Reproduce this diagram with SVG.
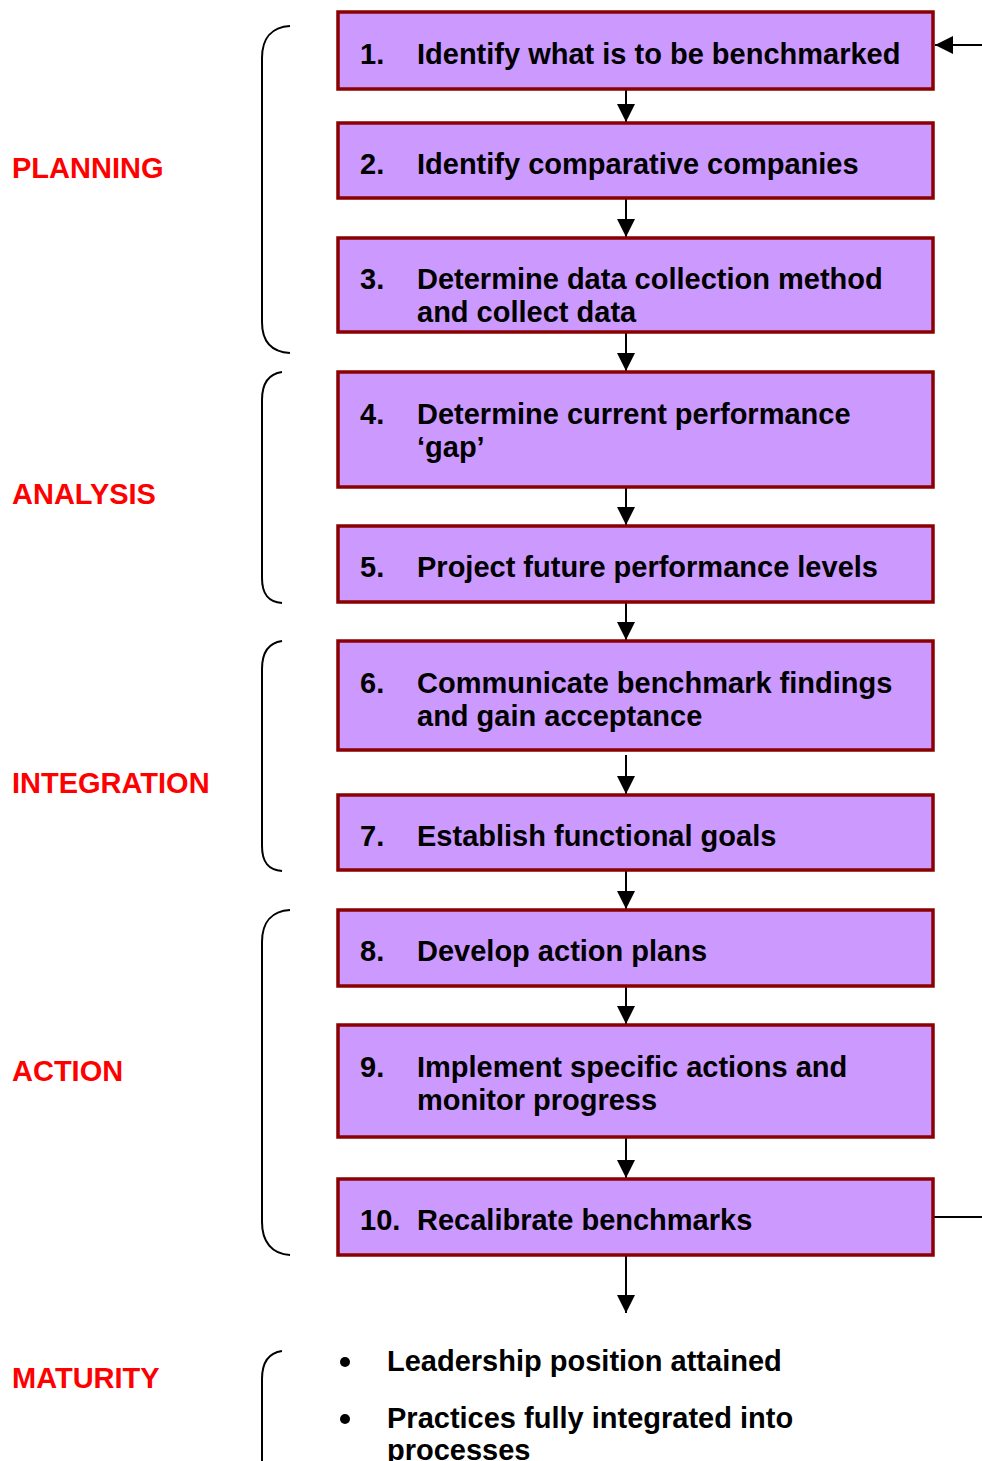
<svg xmlns="http://www.w3.org/2000/svg" width="982" height="1461" viewBox="0 0 982 1461">
<defs>
<marker id="ah" markerWidth="20" markerHeight="18" refX="18" refY="9" orient="auto" markerUnits="userSpaceOnUse">
<path d="M0,0 L18,9 L0,18 Z" fill="#000"/>
</marker>
<style>
.box{fill:#CC99FF;stroke:#8B0000;stroke-width:3.5}
.t{font-family:"Liberation Sans",Arial,sans-serif;font-weight:bold;font-size:29px;fill:#000}
.lbl{font-family:"Liberation Sans",Arial,sans-serif;font-weight:bold;font-size:29px;fill:#FF0000}
.br{fill:none;stroke:#000;stroke-width:2}
.c{fill:none;stroke:#000;stroke-width:2}
</style>
</defs>
<rect width="982" height="1461" fill="#fff"/>
<g id="labels">
<text class="lbl" x="12" y="178">PLANNING</text>
<text class="lbl" x="12" y="504">ANALYSIS</text>
<text class="lbl" x="12" y="793">INTEGRATION</text>
<text class="lbl" x="12" y="1081">ACTION</text>
<text class="lbl" x="12" y="1388">MATURITY</text>
</g>
<g id="braces">
<path class="br" d="M290,26 C272,27 262,38 262,58 L262,322 C262,342 272,352 290,353"/>
<path class="br" d="M282,372 C268,374 262,384 262,400 L262,578 C262,594 268,602 282,603"/>
<path class="br" d="M282,641 C268,643 262,653 262,669 L262,846 C262,862 268,870 282,871"/>
<path class="br" d="M290,910 C272,911 262,922 262,942 L262,1222 C262,1242 272,1254 290,1255"/>
<path class="br" d="M282,1351 C268,1353 262,1363 262,1379 L262,1470"/>
</g>
<g id="connectors">
<line class="c" x1="626" y1="84" x2="626" y2="122" marker-end="url(#ah)"/>
<line class="c" x1="626" y1="199" x2="626" y2="237" marker-end="url(#ah)"/>
<line class="c" x1="626" y1="333" x2="626" y2="371" marker-end="url(#ah)"/>
<line class="c" x1="626" y1="488" x2="626" y2="525" marker-end="url(#ah)"/>
<line class="c" x1="626" y1="603" x2="626" y2="640" marker-end="url(#ah)"/>
<line class="c" x1="626" y1="755" x2="626" y2="794" marker-end="url(#ah)"/>
<line class="c" x1="626" y1="871" x2="626" y2="909" marker-end="url(#ah)"/>
<line class="c" x1="626" y1="987" x2="626" y2="1024" marker-end="url(#ah)"/>
<line class="c" x1="626" y1="1138" x2="626" y2="1178" marker-end="url(#ah)"/>
<line class="c" x1="626" y1="1256" x2="626" y2="1313" marker-end="url(#ah)"/>
<line class="c" x1="982" y1="45" x2="935" y2="45" marker-end="url(#ah)"/>
<line class="c" x1="934" y1="1217" x2="982" y2="1217"/>
</g>
<g id="n1"><rect class="box" x="338" y="12" width="595" height="77"/>
<text class="t" x="360" y="64">1.</text><text class="t" x="417" y="64">Identify what is to be benchmarked</text></g>
<g id="n2"><rect class="box" x="338" y="123" width="595" height="75"/>
<text class="t" x="360" y="174">2.</text><text class="t" x="417" y="174">Identify comparative companies</text></g>
<g id="n3"><rect class="box" x="338" y="238" width="595" height="94"/>
<text class="t" x="360" y="289">3.</text><text class="t" x="417" y="289">Determine data collection method</text>
<text class="t" x="417" y="322">and collect data</text></g>
<g id="n4"><rect class="box" x="338" y="372" width="595" height="115"/>
<text class="t" x="360" y="424">4.</text><text class="t" x="417" y="424">Determine current performance</text>
<text class="t" x="417" y="457">‘gap’</text></g>
<g id="n5"><rect class="box" x="338" y="526" width="595" height="76"/>
<text class="t" x="360" y="577">5.</text><text class="t" x="417" y="577">Project future performance levels</text></g>
<g id="n6"><rect class="box" x="338" y="641" width="595" height="109"/>
<text class="t" x="360" y="693">6.</text><text class="t" x="417" y="693">Communicate benchmark findings</text>
<text class="t" x="417" y="726">and gain acceptance</text></g>
<g id="n7"><rect class="box" x="338" y="795" width="595" height="75"/>
<text class="t" x="360" y="846">7.</text><text class="t" x="417" y="846">Establish functional goals</text></g>
<g id="n8"><rect class="box" x="338" y="910" width="595" height="76"/>
<text class="t" x="360" y="961">8.</text><text class="t" x="417" y="961">Develop action plans</text></g>
<g id="n9"><rect class="box" x="338" y="1025" width="595" height="112"/>
<text class="t" x="360" y="1077">9.</text><text class="t" x="417" y="1077">Implement specific actions and</text>
<text class="t" x="417" y="1110">monitor progress</text></g>
<g id="n10"><rect class="box" x="338" y="1179" width="595" height="76"/>
<text class="t" x="360" y="1230">10.</text><text class="t" x="417" y="1230">Recalibrate benchmarks</text></g>
<g id="maturity">
<circle cx="345" cy="1362" r="5" fill="#000"/>
<text class="t" x="387" y="1371">Leadership position attained</text>
<circle cx="345" cy="1419" r="5" fill="#000"/>
<text class="t" x="387" y="1428">Practices fully integrated into</text>
<text class="t" x="387" y="1460">processes</text>
</g>
</svg>
